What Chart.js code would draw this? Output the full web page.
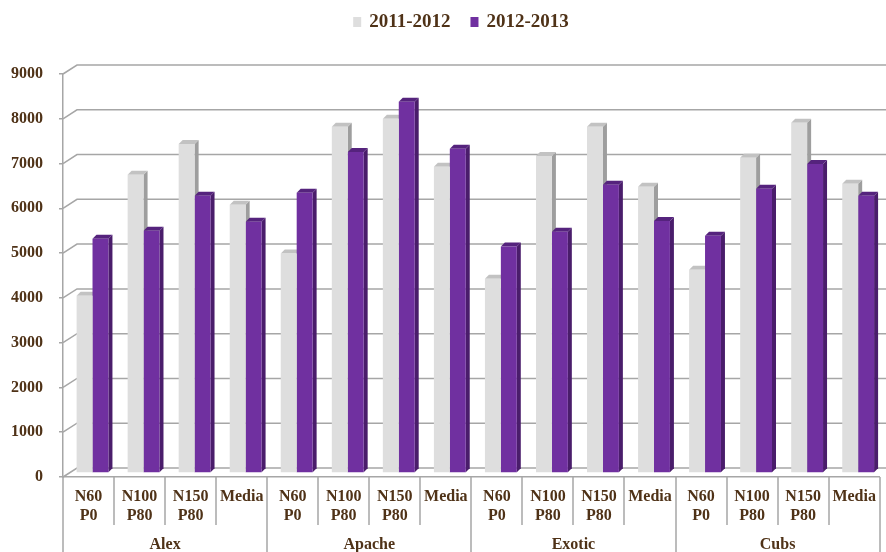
<!DOCTYPE html>
<html>
<head>
<meta charset="utf-8">
<script src="https://cdn.jsdelivr.net/npm/chart.js@4.4.0/dist/chart.umd.min.js"></script>
<style>
  html, body { margin: 0; padding: 0; background: #ffffff; overflow: hidden; }
  #wrap { width: 886px; height: 552px; }
</style>
</head>
<body>
<div id="wrap"><canvas id="c" width="886" height="552"></canvas></div>
<script>
// Cultivars and fertiliser treatments
const groups = ['Alex', 'Apache', 'Exotic', 'Cubs'];
const treatments = [['N60', 'P0'], ['N100', 'P80'], ['N150', 'P80'], 'Media'];

// Seasons
const seriesNames = ['2011-2012', '2012-2013'];

// Yield per treatment, in cultivar order
const season1 = [3960, 6660, 7350, 5990,  4900, 7730, 7910, 6840,  4340, 7080, 7730, 6390,  4540, 7040, 7820, 6460];
const season2 = [5230, 5410, 6190, 5610,  6260, 7170, 8290, 7240,  5060, 5390, 6440, 5630,  5300, 6350, 6900, 6190];

// Value axis
const yMin = 0, yMax = 9000, yStep = 1000;

const categories = groups.flatMap(() => treatments);

const FONT = '"Liberation Serif", "Times New Roman", serif';
const INK = '#4f3217';
const LINE = '#a6a6a6';
const COLORS = ['#dedede', '#7030a0'];
const SHADES = [{ top: '#c2c2c2', side: '#9e9e9e' }, { top: '#55237d', side: '#4a1d6b' }];

// 3D look: back wall offset, bar plane offset, bar depth
const WALL = { dx: 14, dy: 9 };
const PLANE = { dx: 4, dy: 4 };
const CAP = { dx: 4, dy: 4 };

const box3d = {
  id: 'box3d',
  beforeDatasetsDraw(chart) {
    const { ctx, chartArea: a, scales: { y } } = chart;
    // gridlines on the back wall, joined to the front axis by a short slant
    ctx.save();
    ctx.strokeStyle = LINE;
    ctx.lineWidth = 1.5;
    y.ticks.forEach(t => {
      const py = y.getPixelForValue(t.value);
      ctx.beginPath();
      ctx.moveTo(a.left, py);
      ctx.lineTo(a.left + WALL.dx, py - WALL.dy);
      ctx.lineTo(chart.width, py - WALL.dy);
      ctx.stroke();
    });
    ctx.restore();

    // bars sit halfway into the floor; draw their side and top faces first
    ctx.save();
    ctx.translate(PLANE.dx, -PLANE.dy);
    chart.data.datasets.forEach((ds, i) => {
      const meta = chart.getDatasetMeta(i);
      meta.data.forEach(bar => {
        const { x: bx, y: by, base, width } = bar.getProps(['x', 'y', 'base', 'width'], true);
        const l = bx - width / 2, r = bx + width / 2;
        ctx.fillStyle = SHADES[i].side;
        ctx.beginPath();
        ctx.moveTo(r, by);
        ctx.lineTo(r + CAP.dx, by - CAP.dy);
        ctx.lineTo(r + CAP.dx, base - CAP.dy);
        ctx.lineTo(r, base);
        ctx.closePath();
        ctx.fill();
        ctx.fillStyle = SHADES[i].top;
        ctx.beginPath();
        ctx.moveTo(l, by);
        ctx.lineTo(l + CAP.dx, by - CAP.dy);
        ctx.lineTo(r + CAP.dx, by - CAP.dy);
        ctx.lineTo(r, by);
        ctx.closePath();
        ctx.fill();
      });
    });
  },
  afterDatasetsDraw(chart) {
    chart.ctx.restore();
  }
};

const categoryFrame = {
  id: 'categoryFrame',
  afterDraw(chart) {
    const { ctx, chartArea: a, scales: { x } } = chart;
    const n = categories.length, per = treatments.length;
    ctx.save();
    ctx.strokeStyle = LINE;
    ctx.lineWidth = 1.5;
    for (let i = 0; i <= n; i++) {
      const px = Math.round(x.getPixelForValue(i - 0.5));
      const end = i % per === 0 ? chart.height : a.bottom + 48;
      ctx.beginPath();
      ctx.moveTo(px, a.bottom);
      ctx.lineTo(px, end);
      ctx.stroke();
    }
    ctx.font = 'bold 16px ' + FONT;
    ctx.fillStyle = INK;
    ctx.textAlign = 'center';
    ctx.textBaseline = 'alphabetic';
    groups.forEach((g, k) => {
      const cx = (x.getPixelForValue(k * per - 0.5) + x.getPixelForValue((k + 1) * per - 0.5)) / 2;
      ctx.fillText(g, cx, a.bottom + 72);
    });
    ctx.restore();
  }
};

const legendRow = {
  id: 'legendRow',
  afterDraw(chart) {
    const ctx = chart.ctx;
    ctx.save();
    ctx.font = 'bold 19px ' + FONT;
    ctx.textBaseline = 'middle';
    const box = 8, gap = 8, spacing = 20, cx = 461, cy = 22;
    const items = chart.data.datasets.map(d => ({ t: d.label, c: d.backgroundColor, w: ctx.measureText(d.label).width }));
    const total = items.reduce((s, it) => s + box + gap + it.w, 0) + spacing * (items.length - 1);
    let px = cx - total / 2;
    items.forEach(it => {
      ctx.fillStyle = it.c;
      ctx.fillRect(px, cy - 5, box, 10);
      px += box + gap;
      ctx.fillStyle = INK;
      ctx.fillText(it.t, px, cy);
      px += it.w + spacing;
    });
    ctx.restore();
  }
};

new Chart(document.getElementById('c'), {
  type: 'bar',
  data: {
    labels: categories,
    datasets: [
      { label: seriesNames[0], data: season1, backgroundColor: COLORS[0], barPercentage: 1, categoryPercentage: 0.624 },
      { label: seriesNames[1], data: season2, backgroundColor: COLORS[1], barPercentage: 1, categoryPercentage: 0.624 }
    ]
  },
  options: {
    responsive: false,
    animation: false,
    layout: { padding: { top: 74, right: 2, left: 0, bottom: 0 } },
    plugins: {
      legend: { display: false },
      tooltip: { enabled: false }
    },
    scales: {
      x: {
        offset: true,
        grid: { display: false, drawTicks: false },
        border: { display: true, color: LINE, width: 1.5 },
        ticks: {
          font: { family: FONT, size: 16, weight: 'bold', lineHeight: 1.2 },
          color: INK, padding: 10, maxRotation: 0, autoSkip: false
        },
        afterFit(s) { s.height = 75; }
      },
      y: {
        min: yMin, max: yMax,
        ticks: {
          stepSize: yStep,
          font: { family: FONT, size: 16, weight: 'bold' },
          color: INK, padding: 16,
          callback: v => String(v)
        },
        grid: { drawOnChartArea: false, drawTicks: true, tickLength: 4, color: LINE, lineWidth: 1.5 },
        border: { display: true, color: LINE, width: 1.5 },
        afterFit(s) { s.width = 63; }
      }
    }
  },
  plugins: [box3d, categoryFrame, legendRow]
});
</script>
</body>
</html>
